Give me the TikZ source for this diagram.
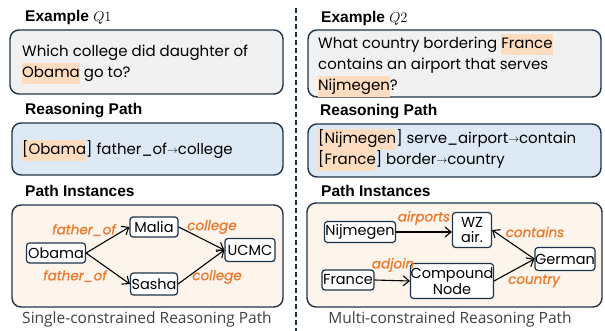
\documentclass[tikz,border=0pt]{standalone}
\usepackage{fontspec}
\setmainfont{Poppins}
\newfontfamily\headfont{Liberation Sans}
\newfontfamily\capfont{Open Sans}
\newfontfamily\labfont[FakeBold=1.2]{Poppins Italic}
\usetikzlibrary{arrows.meta}
\definecolor{navy}{HTML}{1E3448}
\definecolor{qfill}{HTML}{F1F1F1}
\definecolor{rfill}{HTML}{DDE9F5}
\definecolor{pfill}{HTML}{FDF5EC}
\definecolor{hlc}{HTML}{FDDCBF}
\definecolor{lab}{HTML}{EE7A2F}
\setlength{\fboxsep}{0pt}
\newcommand{\hlt}[1]{\colorbox{hlc}{\strut #1}}
\newcommand{\sarr}{\raisebox{.12em}{\scalebox{0.75}{$\rightarrow$}}}
\begin{document}
\begin{tikzpicture}[x=1pt,y=-1pt,
  panel/.style={draw=navy,line width=1.4pt,rounded corners=9pt},
  head/.style={anchor=base west,inner sep=0pt,font=\headfont\bfseries\fontsize{15.5}{17}\selectfont},
  body/.style={anchor=base west,inner sep=0pt,font=\fontsize{15}{21}\selectfont},
  ent/.style={draw=navy,line width=1.2pt,fill=white,rounded corners=3pt,inner sep=0pt,font=\fontsize{14.5}{15.5}\selectfont,align=center},
  elab/.style={inner sep=0pt,text=lab,font=\labfont\fontsize{13.5}{15}\selectfont},
  arr/.style={-{Straight Barb[length=6pt,width=10pt]},line width=1.1pt,black},
  captxt/.style={inner sep=0pt,anchor=base,font=\capfont\fontsize{15.5}{17}\selectfont,text=black!75}]
\useasboundingbox (0,0) rectangle (605,331);
% divider
\draw[navy,line width=1.5pt,dash pattern=on 5pt off 3pt] (296,8) -- (296,331);

% ===== left column =====
\node[head] (h1) at (25,22) {Example $Q1$};
\draw[panel,fill=qfill] (10,30) rectangle (283,94);
\node[body] (q1a) at (22,57) {Which college did daughter of};
\node[body] (q1b) at (22,78) {\hlt{Obama} go to?};

\node[head] (h2) at (25,115) {Reasoning Path};
\draw[panel,fill=rfill] (12,123) rectangle (283,175);
\node[body] (r1) at (22,155) {\hlt{[Obama}] father\_of\sarr college};

\node[head] (h3) at (25,197) {Path Instances};
\draw[panel,fill=pfill] (12,205) rectangle (283,307);
\node[ent,minimum width=59pt,minimum height=20pt] (obama) at (56,253) {Obama};
\node[ent,minimum width=48pt,minimum height=20pt] (malia) at (154,227) {Malia};
\node[ent,minimum width=47pt,minimum height=22pt] (sasha) at (154,284) {Sasha};
\node[ent,minimum width=50pt,minimum height=23pt] (ucmc) at (250,250) {UCMC};
\draw[arr] (obama.east) -- (malia.west);
\draw[arr] (obama.east) -- (sasha.west);
\draw[arr] (malia.east) -- (ucmc.west);
\draw[arr] (sasha.east) -- (ucmc.west);
\node[elab] (l1) at (84,230) {father\_of};
\node[elab] (l2) at (75,276) {father\_of};
\node[elab] (l3) at (212,227) {college};
\node[elab] (l4) at (217,277) {college};
\node[captxt] (c1) at (147,323) {Single-constrained Reasoning Path};

% ===== right column =====
\node[head] (h4) at (321,23) {Example $Q2$};
\draw[panel,fill=qfill] (308,30) rectangle (601,97);
\node[body] (q2a) at (318,49) {What country bordering \hlt{France}};
\node[body] (q2b) at (318,70) {contains an airport that serves};
\node[body] (q2c) at (318,91) {\hlt{Nijmegen}?};

\node[head] (h5) at (320,116) {Reasoning Path};
\draw[panel,fill=rfill] (308,124) rectangle (601,177);
\node[body] (r2a) at (318,144) {\hlt{[Nijmegen}] serve\_airport\sarr contain};
\node[body] (r2b) at (318,165) {\hlt{[France}] border\sarr country};

\node[head] (h6) at (321,197) {Path Instances};
\draw[panel,fill=pfill] (307,203) rectangle (602,307);
\node[ent,minimum width=71pt,minimum height=21pt] (nij) at (360,232) {Nijmegen};
\node[ent,minimum width=39pt,minimum height=35pt] (wz) at (472,230) {WZ\\air.};
\node[ent,minimum width=60pt,minimum height=23pt] (ger) at (565,259) {German};
\node[ent,minimum width=52pt,minimum height=20pt] (fra) at (348,280) {France};
\node[ent,minimum width=79pt,minimum height=35pt] (cmp) at (452,281) {Compound\\Node};
\draw[arr] (nij.east) -- (wz.west |- nij.east);
\draw[arr] (ger.west) -- (wz.east);
\draw[arr] (fra.east) -- (cmp.west);
\draw[arr] (cmp.east) -- (ger.west);
\node[elab] (l5) at (424,218) {airports};
\node[elab] (l6) at (535,232) {contains};
\node[elab] (l7) at (393,265) {adjoin};
\node[elab] (l8) at (534,281) {country};
\node[captxt] (c2) at (450,323) {Multi-constrained Reasoning Path};
\end{tikzpicture}
\end{document}
